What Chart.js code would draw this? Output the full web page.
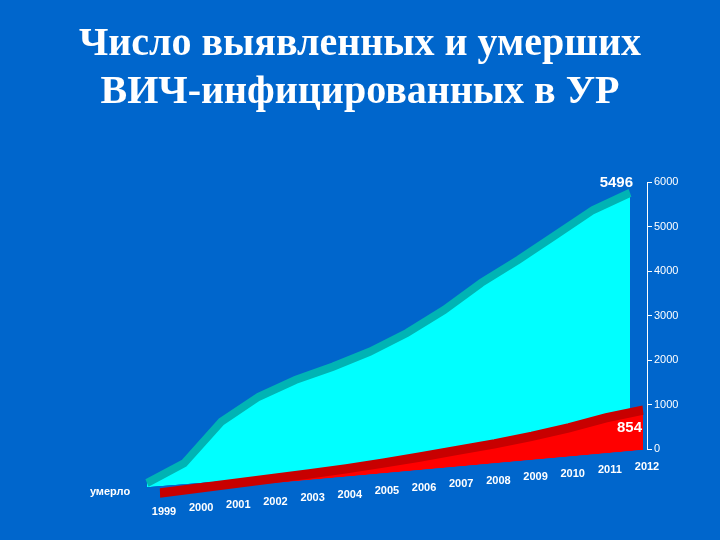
<html>
<head>
    <meta charset="utf-8">
    <script src="https://cdn.jsdelivr.net/npm/chart.js"></script>
    <title>ВИЧ в УР</title>
    <style>
        body { margin: 0; background: #0066cc; }
        canvas { position: absolute; left: 0; top: 0; }
        #title {
            position: absolute; left: 0; top: 18px; width: 720px;
            text-align: center; color: #fff;
            font: bold 40px "Liberation Serif", "DejaVu Serif", serif;
            line-height: 48px;
        }
    </style>
</head>
<body>
    <canvas id="chart" width="720" height="540"></canvas>
    <div id="title">Число выявленных и умерших<br>ВИЧ-инфицированных в УР</div>
    <script>
        // data
        const years = ['1999', '2000', '2001', '2002', '2003', '2004', '2005',
                       '2006', '2007', '2008', '2009', '2010', '2011', '2012'];
        const detected = [90, 450, 1280, 1750, 2050, 2270, 2530, 2870, 3300, 3820, 4250, 4720, 5190, 5496];
        const died = [10, 40, 70, 100, 130, 170, 220, 280, 350, 420, 510, 620, 760, 854];
        const yTicks = [0, 1000, 2000, 3000, 4000, 5000, 6000];
        const diedLabel = 'умерло';

        // fake 3D: each series is sheared a little so the floor slopes
        const tilts = [
            { dx: -4, dy: 1, k: -0.09, s: 1.047 },   // died (front row)
            { dx: -17, dy: 0, k: -0.079, s: 1.047 }  // detected
        ];

        function tiltXY(chart, i, x, y) {
            const t = tilts[i];
            const xr = chart.chartArea.right;
            const y0 = chart.scales.y.getPixelForValue(0);
            return { x: x + t.dx, y: t.k * (x - xr) + t.s * (y - y0) + y0 + t.dy };
        }

        const tiltPlugin = {
            id: 'tilt',
            beforeDatasetDraw(chart, args) {
                const t = tilts[args.index];
                const ctx = chart.ctx;
                const xr = chart.chartArea.right;
                const y0 = chart.scales.y.getPixelForValue(0);
                ctx.save();
                ctx.translate(xr + t.dx, y0 + t.dy);
                ctx.transform(1, t.k, 0, t.s, 0, 0);
                ctx.translate(-xr, -y0);
            },
            afterDatasetDraw(chart) {
                chart.ctx.restore();
            },
            afterDatasetsDraw(chart) {
                const ctx = chart.ctx;
                const xs = chart.scales.x;
                const xr = chart.chartArea.right;
                ctx.save();
                ctx.fillStyle = '#fff';
                ctx.textBaseline = 'middle';
                ctx.textAlign = 'center';
                ctx.font = 'bold 11px Arial, "Liberation Sans", sans-serif';
                years.forEach((yr, i) => {
                    const x = xs.getPixelForValue(i);
                    ctx.fillText(yr, x, 467 + 0.093 * (xr - x));
                });
                ctx.fillText(diedLabel, 110, 492);

                // values at the end of each series
                ctx.font = 'bold 15px Arial, "Liberation Sans", sans-serif';
                ctx.textAlign = 'right';
                const last = years.length - 1;
                const pd = chart.getDatasetMeta(1).data[last];
                const a = tiltXY(chart, 1, pd.x, pd.y);
                ctx.fillText(String(detected[last]), a.x + 3, a.y - 10);
                const pm = chart.getDatasetMeta(0).data[last];
                const b = tiltXY(chart, 0, pm.x, pm.y);
                ctx.fillText(String(died[last]), b.x - 1, b.y + 18);
                ctx.restore();
            }
        };

        // the shear has to be set before the area fill is painted
        const filler = Chart.registry.getPlugin('filler');
        if (filler) {
            Chart.unregister(filler);
            Chart.register(tiltPlugin, filler);
        } else {
            Chart.register(tiltPlugin);
        }

        new Chart(document.getElementById('chart'), {
            type: 'line',
            data: {
                labels: years,
                datasets: [
                    {
                        label: diedLabel,
                        data: died,
                        fill: 'origin',
                        backgroundColor: '#ff0000',
                        borderColor: '#c80000',
                        borderWidth: 9,
                        pointRadius: 0,
                        tension: 0,
                        clip: false
                    },
                    {
                        label: 'выявлено',
                        data: detected,
                        fill: 'origin',
                        backgroundColor: '#00ffff',
                        borderColor: '#00b4b4',
                        borderWidth: 8,
                        pointRadius: 0,
                        tension: 0,
                        clip: false
                    }
                ]
            },
            options: {
                responsive: false,
                animation: false,
                layout: { padding: { top: 182, bottom: 91, left: 164, right: 33 } },
                plugins: {
                    legend: { display: false },
                    tooltip: { enabled: false },
                    title: { display: false }
                },
                scales: {
                    x: { display: false },
                    y: {
                        position: 'right',
                        min: 0,
                        max: 6000,
                        afterFit: s => { s.width = 40; },
                        afterBuildTicks: s => { s.ticks = yTicks.map(v => ({ value: v })); },
                        grid: { drawOnChartArea: false, drawTicks: true, tickLength: 5, color: '#fff' },
                        border: { color: '#fff', width: 1 },
                        ticks: {
                            color: '#fff',
                            padding: 2,
                            callback: v => String(v),
                            font: { family: 'Arial, "Liberation Sans", sans-serif', size: 11 }
                        }
                    }
                }
            }
        });
    </script>
</body>
</html>
